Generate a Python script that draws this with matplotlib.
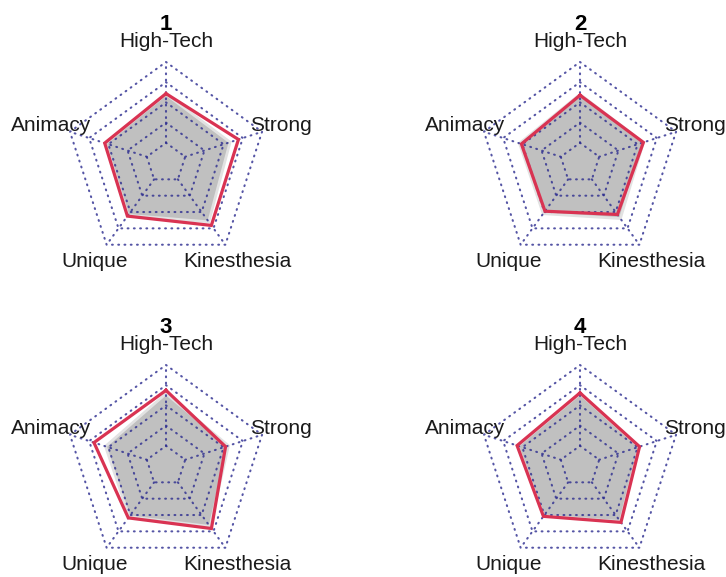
import numpy as np
import matplotlib
matplotlib.use('Agg')
import matplotlib.pyplot as plt

plt.rcParams['font.family'] = ['Liberation Sans', 'DejaVu Sans']

# axis labels, clockwise from top
labels = ['High-Tech', 'Strong', 'Kinesthesia', 'Unique', 'Animacy']
titles = ['1', '2', '3', '4']

# scores scaled 0..1 (rings at 0.2, 0.4, ... 1.0)
red_vals = [
    [0.687, 0.754, 0.764, 0.650, 0.638],
    [0.671, 0.660, 0.630, 0.590, 0.610],
    [0.749, 0.620, 0.765, 0.635, 0.750],
    [0.724, 0.620, 0.690, 0.616, 0.655],
]
grey_vals = [
    [0.680, 0.667, 0.720, 0.640, 0.630],
    [0.680, 0.660, 0.680, 0.620, 0.630],
    [0.716, 0.650, 0.740, 0.620, 0.630],
    [0.715, 0.615, 0.680, 0.610, 0.648],
]
rings = [0.2, 0.4, 0.6, 0.8, 1.0]

W, H = 726, 577
R = 101.0   # px per unit radius
L = 1.45
centers = [(166, 163), (580, 163), (166, 466), (580, 466)]

ang = np.deg2rad(90 - 72 * np.arange(5))
cs, sn = np.cos(ang), np.sin(ang)

fig = plt.figure(figsize=(W / 100, H / 100), dpi=100)
grid_style = dict(color='#2b2b8f', lw=1.5, linestyle=(0, (0.4, 2.6)),
                  dash_capstyle='round', alpha=0.8)

for k in range(4):
    cx, cy = centers[k]
    ax = fig.add_axes([(cx - L * R) / W, (H - cy - L * R) / H, 2 * L * R / W, 2 * L * R / H])
    ax.set_xlim(-L, L)
    ax.set_ylim(-L, L)
    ax.axis('off')

    # grid pentagons and spokes
    for r in rings:
        ax.plot(np.append(cs, cs[0]) * r, np.append(sn, sn[0]) * r, zorder=3, **grid_style)
    for i in range(5):
        ax.plot([cs[i] * 0.2, cs[i]], [sn[i] * 0.2, sn[i]], zorder=3, **grid_style)

    g = np.array(grey_vals[k])
    ax.fill(cs * g, sn * g, facecolor='#c0c0c0', edgecolor='#e2e2e2', lw=2.0, zorder=1)
    v = np.array(red_vals[k])
    ax.plot(np.append(cs * v, cs[0] * v[0]), np.append(sn * v, sn[0] * v[0]),
            color='#d93352', lw=2.3, zorder=4, solid_joinstyle='miter')

    for i, lab in enumerate(labels):
        ax.text(cs[i] * 1.2, sn[i] * 1.2, lab, ha='center', va='center',
                fontsize=15, color='#1a1a1a', clip_on=False)
    ax.text(0, 1.37, titles[k], ha='center', va='center', fontsize=16,
            fontweight='bold', color='black', clip_on=False)

fig.savefig('out.png', dpi=100)
